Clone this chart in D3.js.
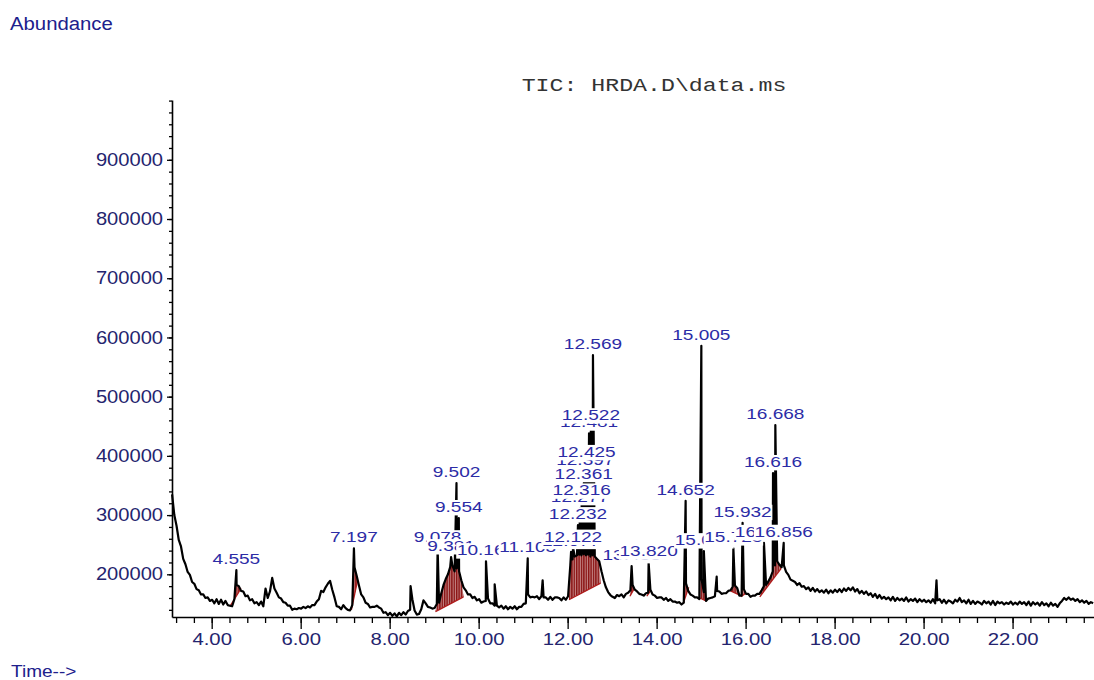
<!DOCTYPE html>
<html>
<head>
<meta charset="utf-8">
<script src="https://cdn.jsdelivr.net/npm/d3@7"></script>
<style>
  html, body { margin: 0; padding: 0; background: #fff; }
  svg { display: block; }
</style>
</head>
<body>
<svg id="chart" width="1094" height="680"></svg>
<script>
// TIC trace, abundance in thousands, sampled every 0.05 min from 3.11 min
const traceStart = 3.11;
const traceStep = 0.05;
const traceValues = [
  335,300,282,258,247,226,217,204,199,187,184,175,173,166,166,160,161,155,157,151, // 3.11
  158,150,157,149,155,148,147,146,158,182,180,172,171,163,164,156,158,151,153,148, // 4.11
  154,146,176,160,171,194,176,169,161,159,153,152,147,147,140,142,141,143,142,145, // 5.11
  143,146,144,148,148,154,158,172,170,178,184,189,174,161,146,145,141,148,143,140, // 6.11
  139,148,212,197,181,166,161,152,150,144,145,145,147,144,142,135,136,131,135,130, // 7.11
  134,129,135,131,136,132,138,140,158,139,132,133,141,156,151,145,144,142,143,150, // 8.11
  152,168,182,192,200,212,215,205,210,205,190,178,173,166,166,160,162,156,158,152, // 9.11
  154,155,159,151,151,147,147,144,147,142,146,141,145,142,146,141,145,145,150,151, // 10.11
  166,161,162,161,163,158,163,161,161,157,162,157,161,161,160,156,161,157,163,215, // 11.11
  225,230,232,233,232,234,232,233,230,232,230,226,222,205,190,178,170,165,162,160, // 12.11
  165,163,166,161,167,169,173,182,174,171,167,166,164,168,169,174,166,164,160,161, // 13.11
  161,157,160,155,158,154,154,152,153,149,152,185,172,166,164,161,161,158,192,170, // 14.11
  155,159,160,161,163,172,171,167,168,168,172,173,179,181,177,164,164,175,167,167, // 15.11
  162,164,164,167,167,173,180,182,188,195,205,215,222,216,212,215,204,199,191,189, // 16.11
  187,182,185,179,180,175,178,172,177,171,175,170,173,169,174,168,173,169,174,170, // 17.11
  175,170,176,172,177,173,178,171,175,168,172,167,171,165,168,162,167,160,165,159, // 18.11
  162,158,161,156,162,155,160,156,159,155,161,154,158,155,159,153,158,154,157,153, // 19.11
  156,152,158,151,156,158,152,157,151,156,154,151,157,154,160,153,156,151,157,150, // 20.11
  155,150,154,152,149,155,151,154,149,155,148,154,151,153,149,152,150,154,149,152, // 21.11
  149,154,150,153,148,154,147,153,149,152,147,153,148,151,146,152,147,150,145,151, // 22.11
  155,160,157,161,157,159,155,158,153,156,152,155,150,153,151                      // 23.11
];

// peak apexes (min, abundance in thousands) and their retention-time labels
const peakTimes = [4.555, 7.197, 8.47, 9.078, 9.381, 9.502, 9.554, 10.165, 10.36, 11.103, 11.438,
  12.077, 12.122, 12.232, 12.277, 12.316, 12.361, 12.397, 12.425, 12.481, 12.522, 12.569,
  13.438, 13.820, 14.652, 15.005, 15.062, 15.35, 15.725, 15.932, 16.412, 16.616, 16.668, 16.856, 20.29];
const peakApex = [207, 244, 180, 244, 229, 354, 295, 222, 183, 227, 190,
  238, 245, 283, 312, 323, 351, 374, 388, 438, 450, 570,
  214, 220, 324, 586, 239, 196, 244, 287, 253, 371, 452, 253, 190];
const peakLabels = ["4.555", "7.197", "", "9.078", "9.381", "9.502", "9.554", "10.165", "", "11.103", "",
  "12.077", "12.122", "12.232", "12.277", "12.316", "12.361", "12.397", "12.425", "12.481", "12.522", "12.569",
  "13.438", "13.820", "14.652", "15.005", "15.062", "", "15.725", "15.932", "16.412", "16.616", "16.668", "16.856", ""];

// integration baselines: start min, start k, end min, end k
const integrations = [
  [4.41, 146, 4.66, 176],
  [7.14, 140, 7.28, 190],
  [9.03, 137, 9.66, 162],
  [12.03, 157, 12.74, 185],
  [13.40, 163, 13.50, 176],
  [13.78, 163, 13.86, 172],
  [14.60, 151, 14.72, 178],
  [14.97, 160, 15.11, 155],
  [15.66, 172, 15.87, 165],
  [15.90, 162, 16.00, 168],
  [16.32, 162, 16.80, 210]
];

const yTickValues = [200000, 300000, 400000, 500000, 600000, 700000, 800000, 900000];
const xTickValues = [4, 6, 8, 10, 12, 14, 16, 18, 20, 22];

const svg = d3.select("#chart");
const sans = "'Liberation Sans', Arial, sans-serif";
const navy = "#24246e";
const labelBlue = "#2c2ca6";
const red = "#8a1212";

const x = d3.scaleLinear().domain([3.108, 23.83]).range([172, 1094]);
const y = d3.scaleLinear().domain([127900, 1001000]).range([617, 100]);

const points = traceValues.map((v, i) => [traceStart + i * traceStep, v * 1000])
  .concat(peakTimes.map((t, i) => [t, peakApex[i] * 1000]))
  .sort((a, b) => a[0] - b[0]);

function stretched(parent, px, py, str, size, sx, anchor, fill, family) {
  const g = parent.append("g").attr("transform", `translate(${px},${py}) scale(${sx},1)`);
  const t = g.append("text")
    .attr("text-anchor", anchor)
    .attr("font-family", family || sans)
    .attr("font-size", size)
    .attr("fill", fill)
    .text(str);
  return { g, t };
}

// hatch for integrated areas
const defs = svg.append("defs");
defs.append("pattern")
  .attr("id", "hatch")
  .attr("patternUnits", "userSpaceOnUse")
  .attr("width", 2.4).attr("height", 10)
  .append("rect").attr("width", 1.4).attr("height", 10).attr("fill", red);

const areaLayer = svg.append("g");
integrations.forEach(([t0, v0, t1, v1]) => {
  const base = t => (v0 + (v1 - v0) * (t - t0) / (t1 - t0)) * 1000;
  const seg = [[t0, v0 * 1000]]
    .concat(points.filter(p => p[0] > t0 && p[0] < t1))
    .concat([[t1, v1 * 1000]]);
  const area = d3.area()
    .x(d => x(d[0]))
    .y0(d => y(base(d[0])))
    .y1(d => y(d[1]));
  areaLayer.append("path").attr("d", area(seg)).attr("fill", red).attr("fill-opacity", 0.5);
  areaLayer.append("path").attr("d", area(seg)).attr("fill", "url(#hatch)");
  areaLayer.append("line")
    .attr("x1", x(t0)).attr("y1", y(v0 * 1000))
    .attr("x2", x(t1)).attr("y2", y(v1 * 1000))
    .attr("stroke", "#b01c1c").attr("stroke-width", 1.3);
});

// trace
svg.append("path")
  .datum(points)
  .attr("d", d3.line().x(d => x(d[0])).y(d => y(d[1])))
  .attr("fill", "none")
  .attr("stroke", "#000")
  .attr("stroke-width", 2.2)
  .attr("stroke-linejoin", "round");

// peak labels with white boxes, later peaks drawn over earlier ones
const labelLayer = svg.append("g");
peakTimes.forEach((t, i) => {
  if (!peakLabels[i]) return;
  const { g, t: txt } = stretched(labelLayer, x(t), y(peakApex[i] * 1000) - 6,
    peakLabels[i], 14, 1.36, "middle", labelBlue);
  const b = txt.node().getBBox();
  g.insert("rect", "text")
    .attr("x", b.x - 0.5).attr("y", b.y + 0.5)
    .attr("width", b.width + 1).attr("height", b.height - 0.5)
    .attr("fill", "#fff");
});

// y axis
const yAxis = svg.append("g").attr("transform", "translate(172,0)");
yAxis.append("g")
  .call(d3.axisLeft(y).tickValues(d3.range(140000, 1000001, 20000)).tickSize(3).tickSizeOuter(0).tickFormat(""))
  .call(g => g.select(".domain").remove());
yAxis.append("g")
  .call(d3.axisLeft(y).tickValues(yTickValues).tickSize(5).tickSizeOuter(0).tickFormat(d3.format("d")))
  .call(g => g.select(".domain").attr("stroke-width", 1.6))
  .call(g => g.selectAll("text")
    .attr("x", -9 / 1.15)
    .attr("transform", "scale(1.15,1)")
    .attr("font-family", sans)
    .attr("font-size", 17.5)
    .attr("fill", navy));

// x axis
const xAxis = svg.append("g").attr("transform", "translate(0,617)");
xAxis.append("g")
  .call(d3.axisBottom(x).tickValues(d3.range(3.2, 23.81, 0.4)).tickSize(6).tickSizeOuter(0).tickFormat(""))
  .call(g => g.select(".domain").remove());
xAxis.append("g")
  .call(d3.axisBottom(x).tickValues(xTickValues).tickSize(12).tickSizeOuter(0).tickFormat(d3.format(".2f")))
  .call(g => g.select(".domain").attr("stroke-width", 1.6))
  .call(g => g.selectAll("text")
    .attr("y", 28).attr("dy", 0)
    .attr("transform", "scale(1.27,1)")
    .attr("font-family", sans)
    .attr("font-size", 16)
    .attr("fill", navy));
svg.selectAll(".tick line").attr("stroke", "#000").attr("stroke-width", 1.3);

// titles
stretched(svg, 10, 30, "Abundance", 18, 1.13, "start", "#20208c");
stretched(svg, 11, 677, "Time-->", 17, 1.12, "start", "#20208c");
stretched(svg, 654, 91, "TIC: HRDA.D\\data.ms", 18, 1.29, "middle", "#333",
  "'Liberation Mono', 'Courier New', monospace");
</script>
</body>
</html>
